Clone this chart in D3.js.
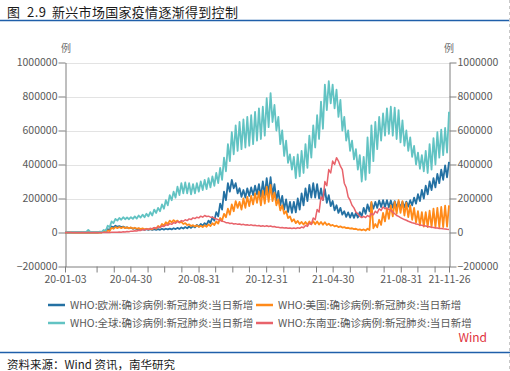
<!DOCTYPE html>
<html><head><meta charset="utf-8">
<script src="https://cdn.jsdelivr.net/npm/d3@7"></script>
<style>
body{margin:0;background:#fff}
svg{display:block}
text{font-family:"Noto Sans CJK SC","Microsoft YaHei",sans-serif}
</style>
</head><body>
<svg id="c" width="510" height="371"></svg>
<script>
// ---- data (thousands of cases; half-week samples: weekly high, weekly low) ----
const startDate = "2020-01-03";
const endDate = "2021-11-26";
const seriesNames = ["WHO:欧洲:确诊病例:新冠肺炎:当日新增","WHO:美国:确诊病例:新冠肺炎:当日新增","WHO:全球:确诊病例:新冠肺炎:当日新增","WHO:东南亚:确诊病例:新冠肺炎:当日新增"];
const seriesColors = ["#2471a3","#ff8a1a","#62c3c3","#e8636b"];

const europe = [
0,0, 0,0, 0,0, 0,0, 0,0, 0,0, 0,0, 0,0, 1,0, 2,1,
8,5, 20,15, 35,30, 40,33, 38,32, 35,28, 30,25, 28,22, 25,20, 22,18,
20,16, 20,15, 20,15, 20,16, 20,16, 22,17, 22,18, 23,18, 25,20, 27,21,
30,23, 32,25, 35,27, 38,30, 45,35, 50,40, 55,45, 70,55, 90,70, 120,95,
170,135, 240,190, 290,240, 310,260, 290,230, 260,210, 250,205, 260,215, 265,220, 275,225,
285,210, 300,220, 320,225, 325,220, 285,190, 245,160, 215,135, 195,120, 180,115, 180,118,
200,135, 230,160, 260,185, 280,205, 290,205, 285,200, 260,190, 255,175, 220,155, 185,130,
160,115, 145,105, 125,92, 118,88, 115,86, 115,88, 120,95, 145,110, 165,125, 175,140,
180,145, 188,150, 190,150, 190,148, 188,146, 185,145, 182,145, 180,148, 182,152, 190,160,
205,170, 225,185, 250,200, 275,225, 300,250, 320,265, 345,290, 370,310, 395,325, 415
];
const usa = [
0,0, 0,0, 0,0, 0,0, 0,0, 0,0, 0,0, 0,0, 0,0, 1,0,
3,2, 12,8, 28,22, 32,26, 32,26, 32,26, 30,24, 30,23, 28,22, 26,20,
24,19, 22,18, 23,18, 28,22, 38,30, 50,40, 60,50, 70,60, 73,62, 70,58,
62,50, 55,44, 48,38, 43,35, 42,33, 40,32, 42,34, 48,38, 55,44, 65,52,
85,70, 110,90, 140,105, 165,125, 185,145, 180,135, 200,145, 210,155, 215,165, 230,175,
240,160, 245,170, 270,180, 280,185, 235,160, 195,130, 160,110, 125,85, 95,65, 78,55,
68,50, 62,47, 62,46, 65,48, 66,48, 65,47, 62,46, 60,44, 52,40, 45,36,
40,32, 36,29, 32,26, 28,23, 25,20, 22,16, 18,13, 18,12, 22,15, 180,25,
50,30, 75,45, 115,65, 140,80, 160,95, 180,110, 190,115, 185,100, 175,90, 160,75,
145,58, 125,42, 120,35, 120,32, 128,30, 140,30, 145,30, 150,32, 158,35, 160
];
const globalCases = [
2,1, 2,1, 3,2, 3,2, 3,2, 4,3, 15,3, 3,2, 3,2, 5,3,
15,10, 40,30, 65,55, 80,70, 85,75, 90,78, 88,78, 90,80, 95,82, 100,88,
105,90, 110,95, 120,100, 135,115, 145,125, 165,140, 190,160, 220,190, 240,205, 270,220,
290,230, 295,230, 290,225, 285,230, 290,240, 300,250, 310,255, 320,265, 330,275, 350,290,
380,310, 440,360, 520,420, 590,460, 630,480, 650,490, 665,500, 680,510, 690,520, 710,540,
730,550, 740,570, 790,620, 820,650, 750,600, 680,520, 600,450, 540,410, 460,370, 445,320,
460,330, 480,350, 520,380, 570,440, 630,500, 690,550, 770,610, 870,720, 890,760, 870,730,
840,680, 780,600, 680,540, 600,480, 540,430, 490,370, 455,300, 445,310, 560,350, 630,420,
650,490, 680,540, 700,570, 730,580, 740,570, 735,550, 720,530, 660,510, 600,480, 560,445,
510,400, 470,375, 455,360, 480,350, 520,370, 555,400, 590,440, 605,455, 615,470, 710
];
const seAsia = [
0,0, 0,0, 0,0, 0,0, 0,0, 0,0, 0,0, 0,0, 0,0, 0,0,
0,0, 1,0, 1,1, 2,1, 3,2, 4,3, 6,5, 8,7, 10,9, 13,12,
17,15, 20,18, 24,22, 28,26, 33,30, 38,35, 45,42, 52,48, 58,54, 65,60,
70,66, 75,70, 80,76, 86,82, 90,86, 96,90, 100,94, 96,90, 90,84, 80,75,
72,66, 64,58, 58,53, 55,50, 52,48, 50,46, 48,44, 46,42, 45,41, 43,39,
41,37, 40,36, 40,35, 38,34, 35,31, 31,28, 29,26, 28,25, 27,24, 27,24,
28,25, 32,28, 42,36, 55,48, 85,75, 135,120, 210,190, 300,275, 370,350, 420,400,
440,420, 390,370, 290,265, 210,190, 160,145, 120,110, 95,88, 95,88, 100,92, 112,104,
125,115, 140,130, 150,140, 145,135, 130,120, 110,100, 95,88, 82,76, 72,66, 62,57,
55,50, 48,44, 43,39, 38,35, 34,31, 30,27, 27,24, 24,22, 21,19, 18
];
const yTicks = [-200000, 0, 200000, 400000, 600000, 800000, 1000000];
const xTickLabels = ["20-01-03","20-04-30","20-08-31","20-12-31","21-04-30","21-08-31","21-11-26"];
const titleParts = ["图", "2.9", "新兴市场国家疫情逐渐得到控制"];
const sourceText = "资料来源：Wind 资讯，南华研究";
const unitText = "例";

// ---- drawing ----
const svg = d3.select("#c");
const parse = d3.utcParse("%Y-%m-%d");
const start = parse(startDate), end = parse(endDate);
const x = d3.scaleUtc().domain([start, end]).range([65, 449]);
const y = d3.scaleLinear().domain([-200000, 1000000]).range([266.5, 62.5]);
const dateAt = i => new Date(start.getTime() + i * 3.5 * 864e5);

// title
const titleX = [7, 27, 52];
titleParts.forEach((t, i) => {
  svg.append("text").attr("x", titleX[i]).attr("y", 16.5).attr("font-size", 13)
    .attr("letter-spacing", i === 2 ? 0.3 : 0.5).attr("fill", "#1a1a1a").text(t);
});
svg.append("line").attr("x1", 0).attr("x2", 510).attr("y1", 20.5).attr("y2", 20.5).attr("stroke", "#1f5faa").attr("stroke-width", 1.5);
svg.append("line").attr("x1", 509.5).attr("x2", 509.5).attr("y1", 0).attr("y2", 371).attr("stroke", "#c8c8c8").attr("stroke-dasharray", "3,3");

// grid
svg.append("g").selectAll("line").data(yTicks.filter(v => v >= 0)).join("line")
  .attr("x1", 65).attr("x2", 449)
  .attr("y1", d => Math.round(y(d)) + 0.5).attr("y2", d => Math.round(y(d)) + 0.5)
  .attr("stroke", "#e3e3e3").attr("stroke-width", 1);

// x ticks: each month end + first & last date
const monthEnds = d3.utcMonth.range(d3.utcMonth.offset(start, 1), end).map(d => new Date(d.getTime() - 864e5));
const xTickVals = [start, ...monthEnds, end];
const fmt = d3.utcFormat("%y-%m-%d");
const axisColor = "#7f7f7f", labelColor = "#595959";

function styleAxis(g) {
  g.select(".domain").attr("stroke", axisColor);
  g.selectAll(".tick line").attr("stroke", axisColor);
  g.selectAll(".tick text").attr("fill", labelColor).attr("font-size", 10.5)
    .attr("font-family", "'Noto Sans CJK SC','Microsoft YaHei',sans-serif");
}
const gx = svg.append("g").attr("transform", "translate(0,266.5)")
  .call(d3.axisBottom(x).tickValues(xTickVals).tickSize(6).tickSizeOuter(0).tickPadding(3)
    .tickFormat(d => xTickLabels.includes(fmt(d)) ? fmt(d) : ""));
styleAxis(gx);
const gl = svg.append("g").attr("transform", "translate(65.5,0)")
  .call(d3.axisLeft(y).tickValues(yTicks).tickSize(7).tickSizeOuter(0).tickPadding(1).tickFormat(d3.format("d")));
styleAxis(gl);
const gr = svg.append("g").attr("transform", "translate(449.5,0)")
  .call(d3.axisRight(y).tickValues(yTicks).tickSize(7).tickSizeOuter(0).tickPadding(1).tickFormat(d3.format("d")));
styleAxis(gr);

svg.append("text").attr("x", 66).attr("y", 52).attr("text-anchor", "middle").attr("font-size", 10).attr("fill", "#707070").text(unitText);
svg.append("text").attr("x", 449).attr("y", 52).attr("text-anchor", "middle").attr("font-size", 10).attr("fill", "#707070").text(unitText);

// lines
const seriesData = [europe, usa, globalCases, seAsia];
const line = d3.line().x((d, i) => x(dateAt(i))).y(d => y(d * 1000));
const widths = [1.8, 1.8, 1.8, 1.5];
seriesData.forEach((s, k) => {
  svg.append("path").datum(s).attr("d", line).attr("fill", "none")
    .attr("stroke", seriesColors[k]).attr("stroke-width", widths[k]).attr("stroke-linejoin", "round");
});

// legend
const legPos = [[48, 305], [256, 305], [48, 323], [256, 323]];
seriesNames.forEach((n, k) => {
  const [lx, ly] = legPos[k];
  svg.append("line").attr("x1", lx).attr("x2", lx + 17).attr("y1", ly).attr("y2", ly)
    .attr("stroke", seriesColors[k]).attr("stroke-width", 2.5);
  svg.append("text").attr("x", lx + 22).attr("y", ly + 4).attr("font-size", 10.5).attr("fill", labelColor).text(n);
});
svg.append("text").attr("x", 487).attr("y", 342).attr("text-anchor", "end").attr("font-size", 12).attr("fill", "#e0323c").text("Wind");

// source
svg.append("line").attr("x1", 0).attr("x2", 510).attr("y1", 352.5).attr("y2", 352.5).attr("stroke", "#1f5faa").attr("stroke-width", 1.5);
svg.append("text").attr("x", 7).attr("y", 369).attr("font-size", 11.5).attr("fill", "#1a1a1a").text(sourceText);
</script>
</body></html>
